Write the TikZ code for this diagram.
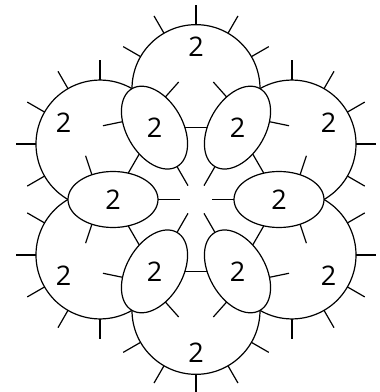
\documentclass[tikz,border=0pt]{standalone}
\usepackage{fontspec}
\setmainfont{Open Sans}
\begin{document}
\begin{tikzpicture}[x=1pt,y=1pt,line width=1.2pt,
  lbl/.style={font=\fontsize{27}{27}\selectfont,inner sep=0pt}]
\useasboundingbox (0,0) rectangle (380,392);
\coordinate (C) at (196,192.5);
% ring centres
\foreach \k in {0,...,5} {
  \path (C) ++(60*\k:83) coordinate (r\k);
}
% joins between neighbouring rings
\foreach \k [evaluate=\k as \n using {int(mod(\k+1,6))}] in {0,...,5} {
  \draw (r\k) -- (r\n);
}
% outer chains with picots
\foreach \j in {0,...,5} {
  \begin{scope}[shift={(C)},rotate={30+60*\j}]
    \draw (110.85,-64) arc[start angle=-90,end angle=90,radius=64];
    \foreach \t in {-60,-30,0,30,60} {
      \draw ([shift={(\t:64)}]110.85,0) -- ([shift={(\t:84)}]110.85,0);
    }
  \end{scope}
}
% inner rings with picots
\foreach \k in {0,...,5} {
  \begin{scope}[shift={(C)},rotate={60*\k}]
    \draw[fill=white] (83,0) ellipse[x radius=45,y radius=28];
    \draw (104.1,24.7) -- (110.4,43.7);
    \draw (104.1,-24.7) -- (110.4,-43.7);
    \draw (38,0) -- (16,0);
  \end{scope}
}
% labels
\foreach \k in {0,...,5} {
  \path (C) ++(60*\k:83) node[lbl] (e\k) {2};
  \path (C) ++(30+60*\k:153) node[lbl] (b\k) {2};
}
\end{tikzpicture}
\end{document}
